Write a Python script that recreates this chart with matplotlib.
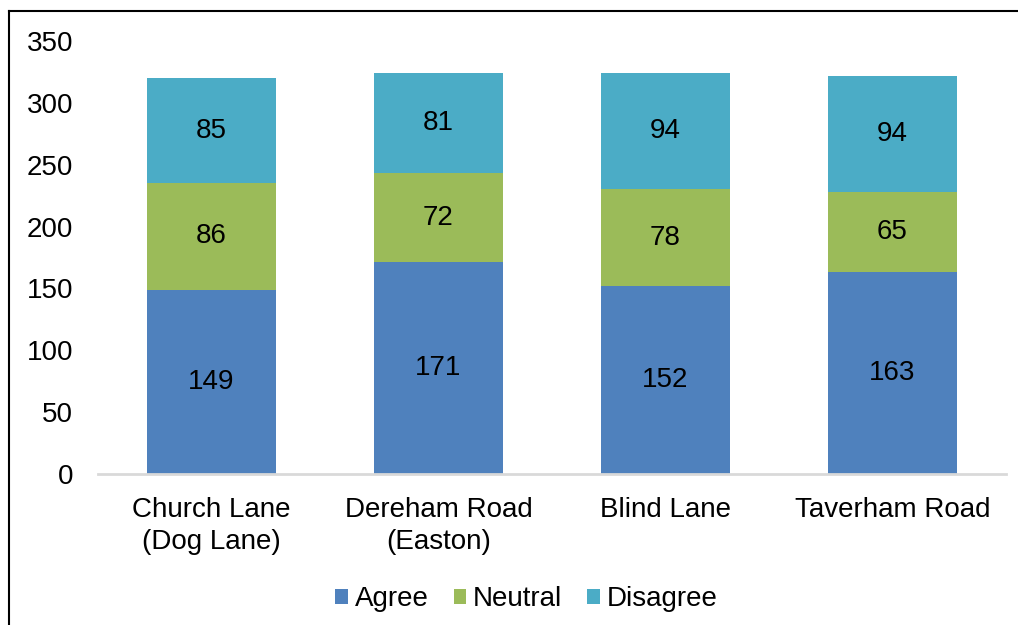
import numpy as np
import matplotlib.pyplot as plt
from matplotlib.lines import Line2D

plt.rcParams['font.family'] = ['Liberation Sans', 'DejaVu Sans']

categories = ['Church Lane\n(Dog Lane)', 'Dereham Road\n(Easton)', 'Blind Lane', 'Taverham Road']
agree = [149, 171, 152, 163]
neutral = [86, 72, 78, 65]
disagree = [85, 81, 94, 94]
series_names = ['Agree', 'Neutral', 'Disagree']
colors = ['#4F81BD', '#9BBB59', '#4BACC6']

fs = 20

fig = plt.figure(figsize=(10.18, 6.25), dpi=100)
ax = fig.add_axes([0.0963, 0.2416, 0.8917, 0.6928])

x = np.arange(len(categories))
bottom = np.zeros(len(categories))
for name, vals, col in zip(series_names, [agree, neutral, disagree], colors):
    bars = ax.bar(x, vals, width=0.568, bottom=bottom, color=col, label=name)
    ax.bar_label(bars, labels=[str(v) for v in vals], label_type='center', fontsize=fs)
    bottom += np.array(vals)

ax.set_xlim(-0.5, len(categories) - 0.5)
ax.set_ylim(0, 350)
ax.set_yticks(np.arange(0, 351, 50))
ax.set_xticks(x)
ax.set_xticklabels(categories, fontsize=fs, linespacing=1.28)
ax.tick_params(axis='y', labelsize=fs, length=0, pad=18)
ax.tick_params(axis='x', length=0, pad=16.5)
for s in ['top', 'right', 'left']:
    ax.spines[s].set_visible(False)
ax.spines['bottom'].set_color('#D9D9D9')
ax.spines['bottom'].set_linewidth(2)

ax.legend(loc='center', bbox_to_anchor=(0.472, -0.289), ncol=3, frameon=False,
          fontsize=fs, handlelength=0.45, handleheight=0.45, handletextpad=0.25,
          columnspacing=0.9)

# outer frame (top and left edges visible)
fig.add_artist(Line2D([9 / 1018, 9 / 1018], [0, 1 - 11 / 625], color='black', lw=1.5))
fig.add_artist(Line2D([9 / 1018, 1], [1 - 11 / 625, 1 - 11 / 625], color='black', lw=1.5))

fig.savefig('out.png', dpi=100)
